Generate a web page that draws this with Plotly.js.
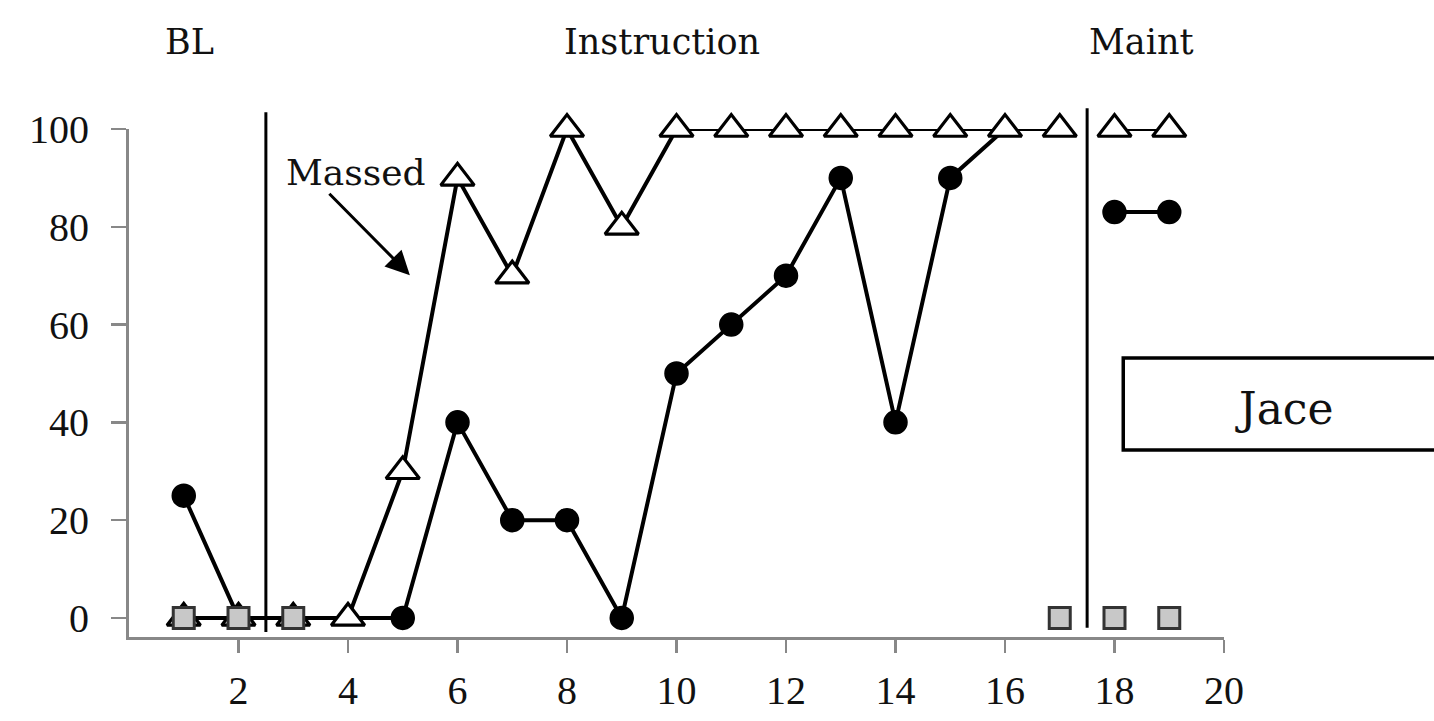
<!DOCTYPE html>
<html>
<head>
<meta charset="utf-8">
<script src="https://cdn.plot.ly/plotly-3.0.1.min.js"></script>
<style>
html,body{margin:0;padding:0;background:#fff;}
#chart{width:1434px;height:721px;}
</style>
</head>
<body>
<div id="chart"></div>
<script>
// Sessions
var sessions = [1,2,3,4,5,6,7,8,9,10,11,12,13,14,15,16,17,18,19];
// Massed (open triangles)
var massed = [0,0,0,0,30,90,70,100,80,100,100,100,100,100,100,100,100,100,100];
// Filled circles
var circles = [25,0,0,0,0,40,20,20,0,50,60,70,90,40,90,100,100,83,83];
// Gray squares
var squareSessions = [1,2,3,17,18,19];
var squares = [0,0,0,0,0,0];
// Phase labels
var phaseLabels = ["BL","Instruction","Maint"];
var phaseLabelX = [1.1, 9.73, 18.5];
var phaseChanges = [2.5, 17.5];
var maintStart = 18;
var yTicks = [0,20,40,60,80,100];
var xTicks = [2,4,6,8,10,12,14,16,18,20];

// circle markers that sit exactly under a triangle are hidden by it
var circleOpacity = circles.map(function(v, i){ return (v === massed[i] && i > 0) ? 0 : 1; });

function split(xs, ys, cond, extra){
  var ox=[], oy=[], oe=[];
  for (var i=0;i<xs.length;i++){ if(cond(xs[i])){ox.push(xs[i]);oy.push(ys[i]); if(extra) oe.push(extra[i]);} }
  return {x:ox,y:oy,e:oe};
}
var before = function(s){return s < maintStart;};
var after = function(s){return s >= maintStart;};

var lineStyle = {color:'#000', width:4};
var triMarker = {symbol:'triangle-up', size:29, color:'#fff', line:{color:'#000', width:3.2}};
var sqMarker = {symbol:'square', size:21, color:'#c8c8c8', line:{color:'#333', width:3}};

var traces = [];
[before, after].forEach(function(c){
  var d = split(sessions, circles, c, circleOpacity);
  traces.push({x:d.x, y:d.y, mode:'lines+markers', type:'scatter', line:lineStyle,
    marker:{symbol:'circle', size:23, color:'#000', opacity:d.e, line:{color:'#000', width:1.5}},
    showlegend:false, hoverinfo:'skip', cliponaxis:false});
});
[before, after].forEach(function(c){
  var d = split(sessions, massed, c);
  traces.push({x:d.x, y:d.y, mode:'lines+markers', type:'scatter', line:lineStyle, marker:triMarker, showlegend:false, hoverinfo:'skip', cliponaxis:false});
});
traces.push({x:squareSessions, y:squares, mode:'markers', type:'scatter', marker:sqMarker, showlegend:false, hoverinfo:'skip', cliponaxis:false});

var phaseTop = [1.033, 1.041];
var phaseBottom = [0.01, 0.018];
var shapes = phaseChanges.map(function(p, i){
  return {type:'line', xref:'x', yref:'paper', x0:p, x1:p, y0:phaseBottom[i], y1:phaseTop[i], line:{color:'#000', width:3}, layer:'above'};
});
shapes.push({type:'rect', xref:'paper', yref:'paper', x0:0.908, x1:1.3, y0:0.368, y1:0.549, line:{color:'#000', width:3.5}, fillcolor:'rgba(0,0,0,0)'});

var serif = 'DejaVu Serif';
var annotations = phaseLabels.map(function(t, i){
  return {text:t, x:phaseLabelX[i], xref:'x', y:1.171, yref:'paper', showarrow:false, xanchor:'center', yanchor:'middle', font:{family:serif, size:35, color:'#111'}};
});
annotations.push({text:'Massed', x:4.15, xref:'x', y:91.2, yref:'y', showarrow:false, xanchor:'center', yanchor:'middle', font:{family:serif, size:36, color:'#111'}});
annotations.push({text:'', x:5.13, xref:'x', y:70.1, yref:'y', showarrow:true, ax:-82, ay:-83, arrowhead:2, arrowsize:1.6, arrowwidth:3, arrowcolor:'#000'});
annotations.push({text:'Jace', x:1.055, xref:'paper', y:0.449, yref:'paper', showarrow:false, xanchor:'center', yanchor:'middle', font:{family:serif, size:44, color:'#111'}});

var layout = {
  width:1434, height:721,
  margin:{l:129, r:210, t:129, b:84, pad:0},
  paper_bgcolor:'#fff', plot_bgcolor:'#fff',
  showlegend:false,
  xaxis:{range:[0,20], tickvals:xTicks, ticktext:xTicks.map(String), showgrid:false, zeroline:false,
         showline:true, linecolor:'#888', linewidth:3, ticks:'outside', ticklen:13, tickwidth:2.5, tickcolor:'#888',
         ticklabelstandoff:3, tickfont:{family:'Liberation Serif', size:40, color:'#111'}},
  yaxis:{range:[-3.9,100], tickvals:yTicks, ticktext:yTicks.map(String), showgrid:false, zeroline:false,
         showline:true, linecolor:'#888', linewidth:3, ticks:'outside', ticklen:15, tickwidth:2.5, tickcolor:'#888',
         ticklabelstandoff:14, tickfont:{family:'Liberation Serif', size:40, color:'#111'}},
  shapes:shapes,
  annotations:annotations
};

Plotly.newPlot('chart', traces, layout, {displayModeBar:false, staticPlot:true});
</script>
</body>
</html>
